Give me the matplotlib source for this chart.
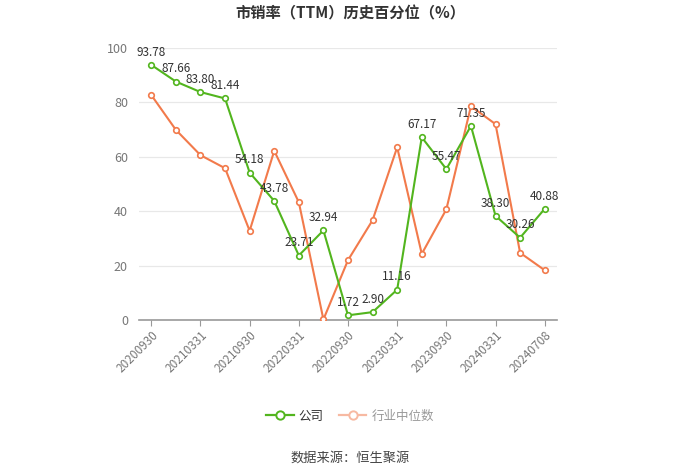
import matplotlib
matplotlib.use("Agg")
import matplotlib.pyplot as plt
from matplotlib.lines import Line2D

plt.rcParams['font.family'] = ['Noto Sans CJK SC', 'DejaVu Sans']

dates = ["20200930", "20201231", "20210331", "20210630", "20210930", "20211231",
         "20220331", "20220630", "20220930", "20221231", "20230331", "20230630",
         "20230930", "20231231", "20240331", "20240630", "20240708"]
company = [93.78, 87.66, 83.80, 81.44, 54.18, 43.78, 23.71, 32.94, 1.72, 2.90,
           11.16, 67.17, 55.47, 71.35, 38.30, 30.26, 40.88]
industry = [82.7, 69.9, 60.6, 55.8, 32.8, 62.2, 43.3, 0.2, 22.0, 36.7,
            63.5, 24.3, 40.7, 78.6, 72.0, 24.7, 18.3]
tick_labels = ["20200930", "20210331", "20210930", "20220331", "20220930",
               "20230331", "20230930", "20240331", "20240708"]
yticks = [0, 20, 40, 60, 80, 100]

green = '#52b51e'
orange = '#f27a4b'

fig = plt.figure(figsize=(7, 4.74), dpi=100)
ax = fig.add_axes([139/700, 1-320/474, 418/700, 272/474])

x = list(range(len(dates)))
ax.plot(x, industry, color=orange, lw=1.5, marker='o', ms=4, mfc='white',
        mec=orange, mew=1.2, zorder=3)
ax.plot(x, company, color=green, lw=1.5, marker='o', ms=4, mfc='white',
        mec=green, mew=1.2, zorder=4)

for xi, v in zip(x, company):
    ax.annotate(f"{v:.2f}", (xi, v), xytext=(0, 4.5), textcoords='offset points',
                ha='center', va='bottom', fontsize=8.5, color='#333333', zorder=5)

ax.set_xlim(-0.5, len(dates) - 0.5)
ax.set_ylim(0, 100)
ax.set_yticks(yticks)
ax.set_yticklabels([str(t) for t in yticks], fontsize=9, color='#777777')
tick_pos = [dates.index(t) for t in tick_labels]
ax.set_xticks(tick_pos)
ax.set_xticklabels(tick_labels, rotation=45, ha='right', rotation_mode='anchor',
                   fontsize=8.5, color='#777777')
ax.tick_params(axis='y', length=0, pad=8)
ax.tick_params(axis='x', length=4, color='#999999', pad=2)
ax.grid(axis='y', color='#e8e8e8', lw=0.9)
ax.set_axisbelow(True)
for s in ['top', 'right', 'left']:
    ax.spines[s].set_visible(False)
ax.spines['bottom'].set_color('#999999')
ax.spines['bottom'].set_linewidth(1.2)

fig.text(0.5, 1-13/474, "市销率（TTM）历史百分位（%）", ha='center', va='center',
         fontsize=11, fontweight='bold', color='#333333')

handles = [Line2D([0], [0], color=green, lw=1.6, marker='o', ms=6, mfc='white', mec=green, mew=1.4),
           Line2D([0], [0], color='#f7b9a2', lw=1.6, marker='o', ms=6, mfc='white', mec='#f7b9a2', mew=1.4)]
leg = fig.legend(handles, ["公司", "行业中位数"], loc='center', bbox_to_anchor=(0.5, 1-416/474),
                 ncol=2, frameon=False, fontsize=9, handlelength=2.2, columnspacing=1.2,
                 handletextpad=0.4)
leg.get_texts()[0].set_color('#333333')
leg.get_texts()[1].set_color('#999999')

fig.text(0.5, 1-458/474, "数据来源：恒生聚源", ha='center', va='center', fontsize=9.5, color='#444444')

fig.savefig("out.png", dpi=100)
